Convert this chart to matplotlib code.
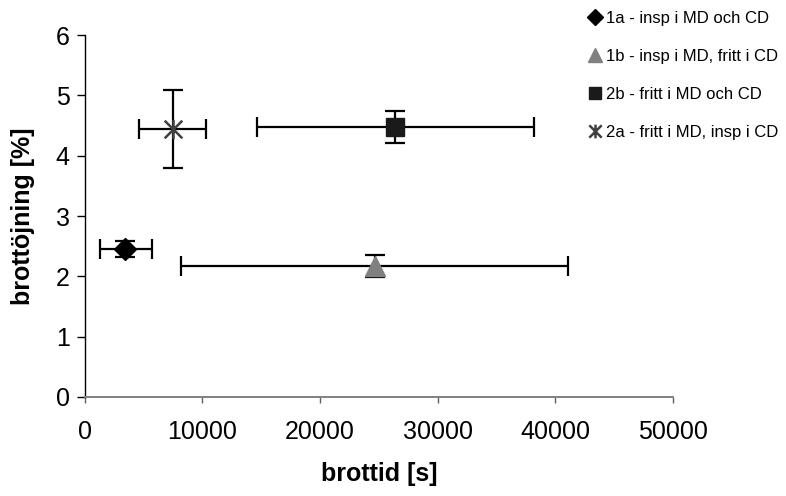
import matplotlib
matplotlib.use("Agg")
import matplotlib.pyplot as plt
from matplotlib.path import Path

plt.rcParams["font.family"] = ["Liberation Sans", "DejaVu Sans"]

# values
labels = ["1a - insp i MD och CD", "1b - insp i MD, fritt i CD",
          "2b - fritt i MD och CD", "2a - fritt i MD, insp i CD"]
tid = [3400, 24700, 26400, 7500]                 # brottid [s]
tid_lo = [1300, 8200, 14600, 4600]               # lower end of x error bar
tid_hi = [5700, 41100, 38200, 10300]             # upper end of x error bar
tojning = [2.45, 2.17, 4.48, 4.44]               # brottöjning [%]
tojning_err = [0.13, 0.19, 0.27, 0.65]

# X with a vertical stroke, like the Excel star marker
star = Path([(-1, -1), (1, 1), (-1, 1), (1, -1), (0, -1.1), (0, 1.1)],
            [Path.MOVETO, Path.LINETO, Path.MOVETO, Path.LINETO, Path.MOVETO, Path.LINETO])

markers = ["D", "^", "s", star]
colors = ["black", "#808080", "#1a1a1a", "#404040"]
msizes = [11.5, 14, 12.5, 14]

fig = plt.figure(figsize=(7.86, 4.96), dpi=100)
ax = fig.add_axes([0.108, 0.2, 0.748, 0.729])

handles = []
for i in range(len(labels)):
    xerr = [[tid[i] - tid_lo[i]], [tid_hi[i] - tid[i]]]
    ax.errorbar([tid[i]], [tojning[i]], xerr=xerr, yerr=[tojning_err[i]],
                fmt="none", ecolor="black", elinewidth=1.6, capsize=7.5, capthick=1.6, zorder=2)
    h, = ax.plot([tid[i]], [tojning[i]], linestyle="none", marker=markers[i],
                 color=colors[i], markersize=msizes[i], markeredgewidth=1.8 if i == 3 else 1,
                 label=labels[i], zorder=3)
    handles.append(h)

ax.set_xlim(0, 50000)
ax.set_ylim(0, 6)
ax.set_xticks(range(0, 50001, 10000))
ax.set_yticks(range(0, 7))
ax.tick_params(labelsize=18, width=1, direction="out")
ax.tick_params(axis="y", length=6, pad=5)
ax.tick_params(axis="x", length=4.5, pad=12, color="#606060")
ax.spines["top"].set_visible(False)
ax.spines["right"].set_visible(False)
ax.spines["bottom"].set_color("#808080")
ax.spines["bottom"].set_linewidth(1.4)
ax.spines["left"].set_linewidth(1.0)

ax.set_xlabel("brottid [s]", fontsize=18, fontweight="bold", labelpad=13)
ax.set_ylabel("brottöjning [%]", fontsize=18, fontweight="bold", labelpad=15)

leg = fig.legend(handles, labels, loc="upper left", bbox_to_anchor=(588 / 786, 0.978),
                 frameon=False, fontsize=12, handlelength=0.8, handletextpad=0.3,
                 labelspacing=1.38, markerscale=0.7, borderpad=0, borderaxespad=0)

plt.savefig("out.png", dpi=100)
